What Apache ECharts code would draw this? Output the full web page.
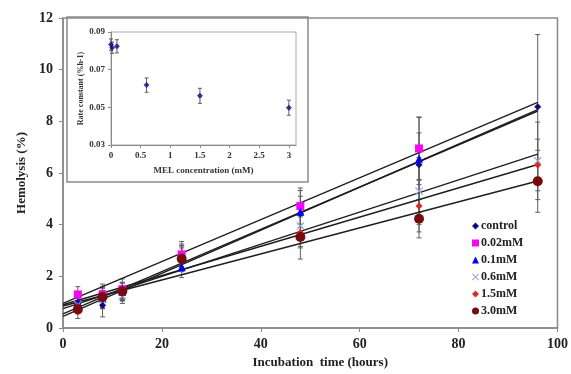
<!DOCTYPE html>
<html>
<head>
<meta charset="utf-8">
<script src="https://cdn.jsdelivr.net/npm/echarts@6/dist/echarts.min.js"></script>
<style>
  html, body { margin: 0; padding: 0; background: #fff; }
  #chart { width: 571px; height: 374px; }
</style>
</head>
<body>
<div id="chart"></div>
<script>
// incubation times (h)
const hours = [3, 8, 12, 24, 48, 72, 96];

// hemolysis (%) per MEL concentration
const control = [0.95, 0.88, 1.4, 2.75, 4.42, 6.32, 8.56];
const mel002 = [1.3, 1.3, 1.5, 2.85, 4.72, 6.95, null];
const mel01 = [1.0, 1.15, 1.4, 2.35, 4.5, 6.55, null];
const mel06 = [0.9, 1.1, 1.25, 2.7, 3.95, 5.3, 6.47];
const mel15 = [0.85, 1.2, 1.45, 2.78, 3.7, 4.72, 6.31];
const mel30 = [0.72, 1.2, 1.42, 2.68, 3.52, 4.23, 5.68];

// standard deviations
const errControl = [0.3, 0.45, 0.35, 0.5, 0.9, 1.85, 2.8];
const err002 = [0.3, 0.4, 0.4, 0.5, 0.7, 1.2, null];
const err01 = [0.3, 0.4, 0.35, 0.4, 0.6, 1.0, null];
const err06 = [0.3, 0.35, 0.3, 0.4, 0.8, 1.3, 1.5];
const err15 = [0.3, 0.35, 0.3, 0.4, 0.6, 1.0, 1.0];
const err30 = [0.35, 0.4, 0.35, 0.5, 0.85, 0.74, 1.2];

// linear trendlines, value at 0 h and at 96 h
const trendX = [0, 96];
const trendControl = [0.45, 8.45];
const trend002 = [0.95, 8.73];
const trend01 = [0.55, 8.4];
const trend06 = [0.75, 6.73];
const trend15 = [0.9, 6.33];
const trend30 = [0.85, 5.69];

// inset: rate constant vs MEL concentration
const melConc = [0, 0.02, 0.1, 0.6, 1.5, 3];
const rateConst = [0.0833, 0.0817, 0.0824, 0.0618, 0.0561, 0.0498];
const rateErr = [0.003, 0.003, 0.0035, 0.0038, 0.004, 0.004];

const FONT = "'Liberation Serif', 'Times New Roman', serif";
const xMark = 'path://M0,1L1,0L5,4L9,0L10,1L6,5L10,9L9,10L5,6L1,10L0,9L4,5Z';

const groups = [
  { name: 'control', y: control, err: errControl, trend: trendControl, symbol: 'diamond', size: 7, color: '#0a0a8c' },
  { name: '0.02mM', y: mel002, err: err002, trend: trend002, symbol: 'rect', size: 8, color: '#ff00ff' },
  { name: '0.1mM', y: mel01, err: err01, trend: trend01, symbol: 'triangle', size: 8, color: '#0000ff' },
  { name: '0.6mM', y: mel06, err: err06, trend: trend06, symbol: xMark, size: 8, color: '#8fa8d4' },
  { name: '1.5mM', y: mel15, err: err15, trend: trend15, symbol: 'diamond', size: 7, color: '#e3261c' },
  { name: '3.0mM', y: mel30, err: err30, trend: trend30, symbol: 'circle', size: 10, color: '#7a0a0a' }
];

function errorBar(xIdx, yIdx, capHalf) {
  return {
    type: 'custom',
    xAxisIndex: xIdx,
    yAxisIndex: yIdx,
    z: 1,
    silent: true,
    renderItem: function (params, api) {
      const x = api.value(0);
      const lo = api.coord([x, api.value(1)]);
      const hi = api.coord([x, api.value(2)]);
      const st = { stroke: '#5e5e5e', lineWidth: 1 };
      return {
        type: 'group',
        children: [
          { type: 'line', shape: { x1: lo[0], y1: lo[1], x2: hi[0], y2: hi[1] }, style: st },
          { type: 'line', shape: { x1: lo[0] - capHalf, y1: lo[1], x2: lo[0] + capHalf, y2: lo[1] }, style: st },
          { type: 'line', shape: { x1: hi[0] - capHalf, y1: hi[1], x2: hi[0] + capHalf, y2: hi[1] }, style: st }
        ]
      };
    }
  };
}

const series = [];
groups.forEach(function (g) {
  series.push({
    type: 'line',
    xAxisIndex: 0, yAxisIndex: 0,
    data: trendX.map(function (x, i) { return [x, g.trend[i]]; }),
    symbol: 'none',
    lineStyle: { color: '#1e1e1e', width: 1.4 },
    z: 2, silent: true
  });
});
groups.forEach(function (g) {
  const eb = errorBar(0, 0, 2.5);
  eb.data = [];
  hours.forEach(function (h, i) {
    if (g.y[i] != null) eb.data.push([h, g.y[i] - g.err[i], g.y[i] + g.err[i]]);
  });
  series.push(eb);
});
groups.forEach(function (g) {
  series.push({
    name: g.name,
    type: 'scatter',
    xAxisIndex: 0, yAxisIndex: 0,
    data: hours.map(function (h, i) { return g.y[i] == null ? null : [h, g.y[i]]; }).filter(Boolean),
    symbol: g.symbol,
    symbolSize: g.size,
    itemStyle: { color: g.color, opacity: 1 },
    z: 3
  });
});

// inset
const insetErr = errorBar(1, 1, 2);
insetErr.data = melConc.map(function (c, i) { return [c, rateConst[i] - rateErr[i], rateConst[i] + rateErr[i]]; });
series.push(insetErr);
series.push({
  type: 'scatter',
  xAxisIndex: 1, yAxisIndex: 1,
  data: melConc.map(function (c, i) { return [c, rateConst[i]]; }),
  symbol: 'diamond',
  symbolSize: 6,
  itemStyle: { color: '#0a0a8c' },
  z: 3
});

const mainAxisLine = { lineStyle: { color: '#8a8a8a', width: 1.5 } };
const mainLabel = { fontFamily: FONT, fontWeight: 'bold', fontSize: 14, color: '#222' };
const insetLabel = { fontFamily: FONT, fontWeight: 'bold', fontSize: 9, color: '#333' };

const chart = echarts.init(document.getElementById('chart'));
chart.setOption({
  animation: false,
  backgroundColor: '#fff',
  graphic: [{
    type: 'rect',
    z: -1,
    shape: { x: 67, y: 17, width: 241, height: 165 },
    style: { fill: '#fff', stroke: '#8a8a8a', lineWidth: 1.5 }
  }],
  legend: {
    orient: 'vertical',
    left: 467,
    top: 215,
    itemWidth: 7,
    itemHeight: 7,
    itemGap: 5,
    data: groups.map(function (g) { return g.name; }),
    textStyle: { fontFamily: FONT, fontWeight: 'bold', fontSize: 12, color: '#222', padding: [0, 0, 0, -3] }
  },
  grid: [
    { left: 63, right: 11, top: 18, bottom: 44, show: true, borderColor: '#8a8a8a', borderWidth: 1.5 },
    { left: 111, right: 275, top: 32, bottom: 229, show: true, borderColor: '#aaa', borderWidth: 1 }
  ],
  xAxis: [{
    gridIndex: 0,
    type: 'value', min: 0, max: 100, interval: 20,
    name: 'Incubation  time (hours)',
    nameLocation: 'middle', nameGap: 28,
    nameTextStyle: { fontFamily: FONT, fontWeight: 'bold', fontSize: 13, color: '#222', padding: [0, 0, 0, 20] },
    axisLine: mainAxisLine,
    axisTick: { show: true, length: 4, lineStyle: { color: '#8a8a8a' } },
    axisLabel: Object.assign({ margin: 9 }, mainLabel),
    splitLine: { show: false }
  }, {
    gridIndex: 1,
    type: 'value', min: 0, max: 3.12, interval: 0.5,
    name: 'MEL concentration (mM)',
    nameLocation: 'middle', nameGap: 21,
    nameTextStyle: { fontFamily: FONT, fontWeight: 'bold', fontSize: 9, color: '#333' },
    axisLine: { lineStyle: { color: '#8a8a8a', width: 1 } },
    axisTick: { show: true, length: 3, lineStyle: { color: '#8a8a8a' } },
    axisLabel: Object.assign({ margin: 6, showMaxLabel: false }, insetLabel),
    splitLine: { show: false }
  }],
  yAxis: [{
    gridIndex: 0,
    type: 'value', min: 0, max: 12, interval: 2,
    name: 'Hemolysis (%)',
    nameLocation: 'middle', nameGap: 35, nameRotate: 90,
    nameTextStyle: { fontFamily: FONT, fontWeight: 'bold', fontSize: 13, color: '#222' },
    axisLine: Object.assign({ show: true }, mainAxisLine),
    axisTick: { show: true, length: 4, lineStyle: { color: '#8a8a8a' } },
    axisLabel: Object.assign({ margin: 10 }, mainLabel),
    splitLine: { show: false }
  }, {
    gridIndex: 1,
    type: 'value', min: 0.03, max: 0.09, interval: 0.02,
    name: 'Rate constant (%h-1)',
    nameLocation: 'middle', nameGap: 25, nameRotate: 90,
    nameTextStyle: { fontFamily: FONT, fontWeight: 'bold', fontSize: 8, color: '#333' },
    axisLine: { show: true, lineStyle: { color: '#8a8a8a', width: 1 } },
    axisTick: { show: true, length: 3, lineStyle: { color: '#8a8a8a' } },
    axisLabel: Object.assign({ margin: 6, formatter: function (v) { return v.toFixed(2); } }, insetLabel),
    splitLine: { show: false }
  }],
  series: series
});
</script>
</body>
</html>
